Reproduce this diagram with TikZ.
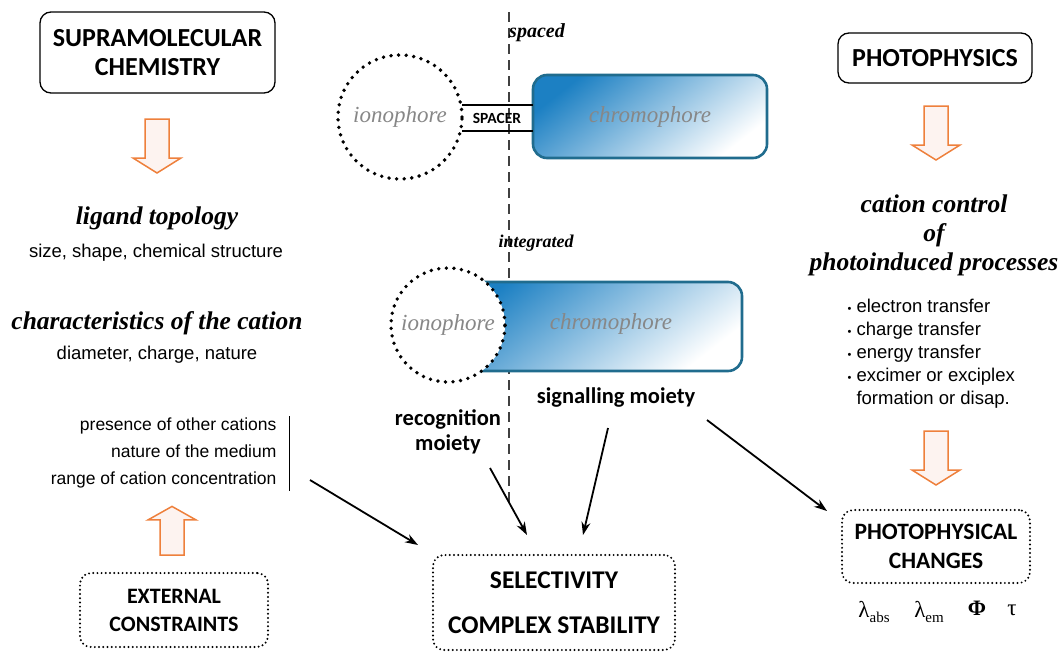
\documentclass[tikz,border=0pt]{standalone}
\usepackage{fontspec}
\setmainfont{Liberation Serif}
\setsansfont{Liberation Sans}
\newfontfamily\calib{Carlito}
\usetikzlibrary{arrows.meta,calc}
\definecolor{arroworange}{RGB}{238,128,60}
\definecolor{arrowfill}{RGB}{253,243,240}
\definecolor{chromblue}{RGB}{28,128,195}
\definecolor{chromedge}{RGB}{32,108,142}
\definecolor{labelgray}{RGB}{135,135,135}

\tikzset{
  solidbox/.style={draw, rounded corners=11pt, line width=1.3pt, align=center,
    font=\calib\bfseries\fontsize{26}{29}\selectfont},
  dotbox/.style={draw, rounded corners=11pt, line width=2.2pt, line cap=round,
    dash pattern=on 0pt off 4.2pt, align=center},
  heading/.style={font=\bfseries\itshape\fontsize{25.5}{29}\selectfont, align=center},
  subline/.style={font=\sffamily\fontsize{18.5}{22}\selectfont},
  moiety/.style={font=\calib\bfseries\fontsize{22.5}{25}\selectfont, align=center},
  phore/.style={font=\itshape\fontsize{23}{26}\selectfont, text=labelgray},
  ionring/.style={draw, circle, line width=3.8pt, line cap=round,
    dash pattern=on 0pt off 7.6pt},
  chrombox/.style={draw=chromedge, line width=2.6pt, shading=axis,
    top color=chromblue, bottom color=white, shading angle=38},
  arrowline/.style={draw=arroworange, fill=arrowfill, line width=1.5pt, line join=miter},
  link/.style={line width=1.8pt, -{Stealth[length=13pt,width=9pt]}},
  pics/hollowarrow/.style={code={
    \draw[arrowline] (-12,0) -- (12,0) -- (12,39) -- (24,39) -- (0,54)
      -- (-24,39) -- (-12,39) -- cycle;}}
}

\begin{document}
\begin{tikzpicture}[x=1pt, y=-1pt]
  \useasboundingbox (0,0) rectangle (1064,653);

  %%%%% LEFT COLUMN %%%%%
  \node[solidbox, minimum width=235pt, minimum height=81pt] (supra) at (157.5,52.5)
    {SUPRAMOLECULAR\\CHEMISTRY};
  \pic at (157,119) {hollowarrow};

  \node[heading] (topo) at (157,218) {ligand topology};
  \node[subline] (topodet) at (156,253) {size, shape, chemical structure};
  \node[heading] (cation) at (157,323) {characteristics of the cation};
  \node[subline] (catdet) at (157,355) {diameter, charge, nature};

  \node[anchor=east, align=right, font=\sffamily\fontsize{17.5}{27}\selectfont]
    (medium) at (280,453)
    {presence of other cations\\nature of the medium\\range of cation concentration};
  \draw[line width=0.9pt] (289,416) -- (289,491);

  \pic[yscale=-0.9] at (172,555) {hollowarrow};
  \node[dotbox, minimum width=188pt, minimum height=74pt,
    font=\calib\bfseries\fontsize{22}{28}\selectfont] (extern) at (174,610)
    {EXTERNAL\\CONSTRAINTS};

  %%%%% CENTRE %%%%%
  \draw[line width=1.2pt, black!75, dash pattern=on 10pt off 6pt] (509,12) -- (509,505);
  \node[font=\bfseries\itshape\fontsize{20}{22}\selectfont] (spaced) at (537,33) {spaced};

  % spaced receptor
  \node[chrombox, rounded corners=14pt, minimum width=234pt, minimum height=83pt]
    (chromo1) at (650,116.5) {};
  \node[phore] at (chromo1) {chromophore};
  \draw[line width=2.6pt] (462,105) -- (533,105);
  \draw[line width=2.6pt] (462,131) -- (533,131);
  \node[font=\calib\bfseries\fontsize{15.5}{17}\selectfont] (spacer) at (497,118) {SPACER};
  \node[ionring, minimum size=124pt] (iono1) at (400,117) {};
  \node[phore] at (iono1) {ionophore};

  % integrated receptor
  \node[font=\bfseries\itshape\fontsize{18}{20}\selectfont] (integ) at (536,243) {integrated};
  \draw[chrombox, rounded corners=14pt] (448,282) -- (742,282) -- (742,371)
    -- (448,371) -- cycle;
  \node[ionring, fill=white, minimum size=114pt] (iono2) at (448,325) {};
  \node[phore] at (iono2) {ionophore};
  \node[phore] (chromo2) at (611,324) {chromophore};

  \node[moiety] (recog) at (448,432) {recognition\\moiety};
  \node[moiety] (signal) at (616,398) {signalling moiety};

  \node[dotbox, minimum width=242pt, minimum height=95pt,
    font=\calib\bfseries\fontsize{25.5}{29}\selectfont] (select) at (554,602.5)
    {SELECTIVITY\\[16pt]COMPLEX STABILITY};

  %%%%% RIGHT COLUMN %%%%%
  \node[solidbox, minimum width=194pt, minimum height=50pt] (photo) at (935,58)
    {PHOTOPHYSICS};
  \pic at (936,106) {hollowarrow};
  \node[heading] (control) at (934,235)
    {cation control\\of\\photoinduced processes};
  \node[anchor=west, align=left, font=\sffamily\fontsize{18.5}{23}\selectfont]
    (procs) at (844,354)
    {{\fontsize{11}{11}\selectfont\textbullet}\ electron transfer\\
     {\fontsize{11}{11}\selectfont\textbullet}\ charge transfer\\
     {\fontsize{11}{11}\selectfont\textbullet}\ energy transfer\\
     {\fontsize{11}{11}\selectfont\textbullet}\ excimer or exciplex\\
     \phantom{{\fontsize{11}{11}\selectfont\textbullet}\ }formation or disap.};
  \pic at (936,431) {hollowarrow};
  \node[dotbox, minimum width=188pt, minimum height=73pt,
    font=\calib\bfseries\fontsize{23.5}{29}\selectfont] (changes) at (936,546.5)
    {PHOTOPHYSICAL\\CHANGES};

  \node[font=\fontsize{23}{26}\selectfont] (lamabs) at (874,612)
    {λ\raisebox{-0.45ex}{\fontsize{15}{15}\selectfont abs}};
  \node[font=\fontsize{23}{26}\selectfont] (lamem) at (929,612)
    {λ\raisebox{-0.45ex}{\fontsize{15}{15}\selectfont em}};
  \node[font=\bfseries\fontsize{22}{26}\selectfont] (phi) at (977,608) {Φ};
  \node[font=\fontsize{23}{26}\selectfont] (tau) at (1012,610) {τ};

  %%%%% CONNECTORS %%%%%
  \coordinate (mediumend) at (310,480);
  \coordinate (selectleft) at (418,545);
  \coordinate (recogend) at (490,468);
  \coordinate (selectmid) at (527,535);
  \coordinate (signalend) at (608,428);
  \coordinate (selectright) at (583,535);
  \coordinate (signalright) at (707,420);
  \coordinate (changesleft) at (827,511);
  \draw[link] (mediumend) -- (selectleft);
  \draw[link] (recogend) -- (selectmid);
  \draw[link] (signalend) -- (selectright);
  \draw[link] (signalright) -- (changesleft);
\end{tikzpicture}
\end{document}
